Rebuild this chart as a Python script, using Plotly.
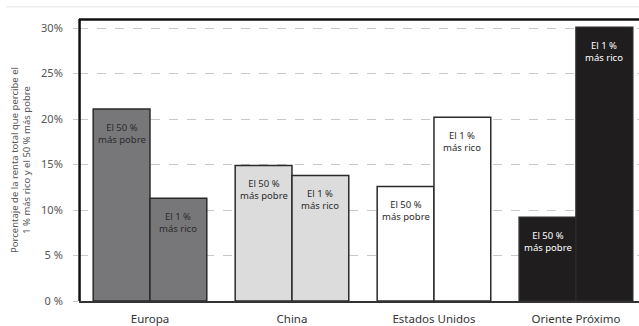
import plotly.graph_objects as go

# Regions and income shares (% of total income)
regions = ["Europa", "China", "Estados Unidos", "Oriente Próximo"]
bottom50 = [21.1, 14.9, 12.6, 9.2]
top1 = [11.3, 13.8, 20.2, 30.1]

bar_colors = ["#77777a", "#dcdcdd", "#ffffff", "#1f1d1e"]
text_colors = ["#2b2b2b", "#2b2b2b", "#2b2b2b", "#ffffff"]

label_bottom = "El 50 %<br>más pobre"
label_top = "El 1 %<br>más rico"

ytick_vals = [0, 5, 10, 15, 20, 25, 30]
ytick_text = ["0 %", "5 %", "10%", "15%", "20%", "25%", "30%"]

FONT = "Noto Sans"

fig = go.Figure()
fig.add_trace(go.Bar(
    x=regions, y=bottom50, name="El 50 % más pobre",
    marker=dict(color=bar_colors, line=dict(color="#2a2a2a", width=1.5)),
))
fig.add_trace(go.Bar(
    x=regions, y=top1, name="El 1 % más rico",
    marker=dict(color=bar_colors, line=dict(color="#2a2a2a", width=1.5)),
))

# In-bar labels just below each bar's top
annotations = []
for i in range(len(regions)):
    for off, val, txt in ((-0.2, bottom50[i], label_bottom), (0.2, top1[i], label_top)):
        annotations.append(dict(
            x=i + off, y=val, xref="x", yref="y", text=txt, showarrow=False,
            yanchor="top", yshift=-10, align="center",
            font=dict(family=FONT, size=9.5, color=text_colors[i]),
        ))

shapes = [
    # thin rule above the chart
    dict(type="line", xref="paper", yref="paper", x0=-0.13, x1=1.0, y0=1.043, y1=1.043,
         line=dict(color="#e4e4e4", width=1)),
    # heavy frame on the left and top
    dict(type="line", xref="paper", yref="paper", x0=0.001, x1=0.001, y0=0, y1=1,
         line=dict(color="#111111", width=2.5)),
    dict(type="line", xref="paper", yref="paper", x0=0, x1=1, y0=0.998, y1=0.998,
         line=dict(color="#111111", width=2.5)),
]

fig.update_layout(
    width=639, height=326,
    margin=dict(l=79, r=0, t=19, b=23),
    paper_bgcolor="white", plot_bgcolor="white",
    barmode="group", bargap=0.2, bargroupgap=0,
    showlegend=False,
    annotations=annotations,
    shapes=shapes,
    font=dict(family=FONT, color="#444444"),
    xaxis=dict(
        type="category", range=[-0.5, 3.444],
        showline=True, linecolor="#333333", linewidth=1.5,
        showgrid=False, ticks="", ticklabelstandoff=6,
        tickfont=dict(family=FONT, size=11.5, color="#333333"),
    ),
    yaxis=dict(
        range=[0, 31], tickvals=ytick_vals, ticktext=ytick_text,
        showgrid=True, gridcolor="#c9c9c9", griddash="dash", gridwidth=1,
        zeroline=False, showline=False,
        ticks="outside", ticklen=5, tickcolor="#c9c9c9", ticklabelstandoff=8,
        tickfont=dict(family=FONT, size=11, color="#555555"),
        title=dict(
            text="Porcentaje de la renta total que percibe el<br>1 % más rico y el 50 % más pobre",
            font=dict(family=FONT, size=9.5, color="#555555"), standoff=8,
        ),
    ),
)

fig.write_html("out.html")
